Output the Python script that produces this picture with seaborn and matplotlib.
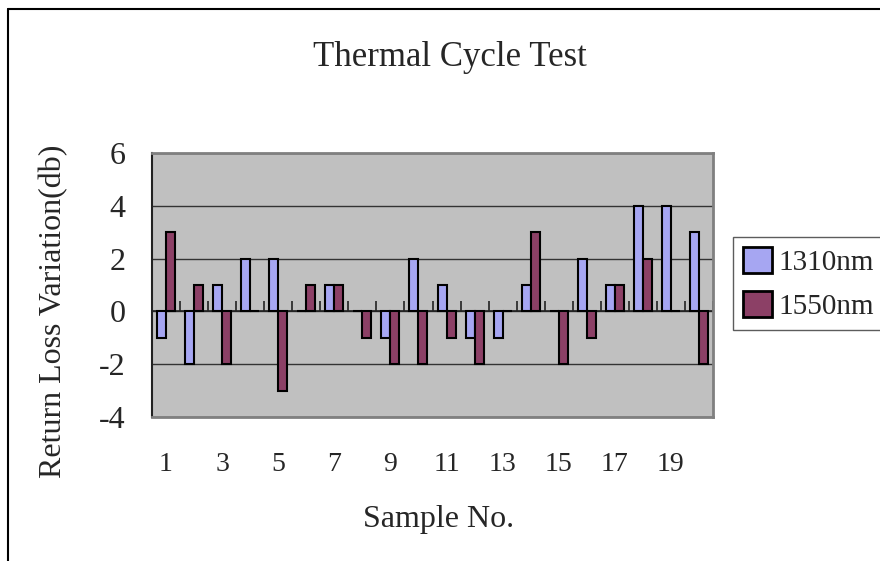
import pandas as pd
import numpy as np
import matplotlib
matplotlib.use("Agg")
import matplotlib.pyplot as plt
import seaborn as sns
from matplotlib.lines import Line2D

# values
samples = [str(i) for i in range(1, 21)]
loss_1310 = [-1, -2, 1, 2, 2, 0, 1, 0, -1, 2, 1, -1, -1, 1, 0, 2, 1, 4, 4, 3]
loss_1550 = [3, 1, -2, 0, -3, 1, 1, -1, -2, -2, -1, -2, 0, 3, -2, -1, 1, 2, 0, -2]
series = ["1310nm", "1550nm"]
yticks = [-4, -2, 0, 2, 4, 6]
xtick_labels = samples[::2]

df = pd.DataFrame({
    "Sample": samples * 2,
    "Variation": loss_1310 + loss_1550,
    "Wavelength": [series[0]] * len(samples) + [series[1]] * len(samples),
})

sns.set_style("white")
plt.rcParams["font.family"] = ["Liberation Serif", "DejaVu Serif"]

fig = plt.figure(figsize=(8.8, 5.61), dpi=100)
ax = fig.add_axes([152 / 880, 1 - 417 / 561, 561 / 880, 264 / 561])
ax.set_facecolor("#C0C0C0")

sns.barplot(data=df, x="Sample", y="Variation", hue="Wavelength",
            palette=["#9999FF", "#993366"], width=0.64, gap=0,
            edgecolor="black", linewidth=1.5, ax=ax, zorder=3)

ax.set_ylim(-4, 6)
ax.set_xlim(-0.5, len(samples) - 0.5)
ax.set_yticks(yticks)
ax.set_yticklabels([str(v) for v in yticks], fontsize=23)
ax.tick_params(axis="y", direction="in", length=10, width=1.5, color="#333333", pad=19)
ax.set_xticks(np.arange(0, len(samples), 2))
ax.set_xticklabels(xtick_labels, fontsize=20)
ax.tick_params(axis="x", length=0, pad=25)

ax.set_axisbelow(True)
ax.yaxis.grid(True, color="#333333", linewidth=1.0)

# category axis on the zero line, ticks between categories
ax.axhline(0, color="#222222", linewidth=1.2, zorder=2)
bounds = np.arange(len(samples) + 1) - 0.5
ax.vlines(bounds, 0, 0.38, color="#222222", linewidth=1.2, zorder=2)

for side in ["top", "right", "bottom"]:
    ax.spines[side].set_color("#808080")
    ax.spines[side].set_linewidth(2)
ax.spines["left"].set_color("#222222")
ax.spines["left"].set_linewidth(1.5)

ax.set_xlabel("Sample No.", fontsize=23)
ax.xaxis.set_label_coords(0.51, -0.335)
ax.set_ylabel("Return Loss Variation(db)", fontsize=23)
ax.yaxis.set_label_coords(-0.150, 0.40)

fig.text(450 / 880, 1 - 57 / 561, "Thermal Cycle Test", fontsize=25,
         ha="center", va="center")

leg = ax.legend(loc="upper left", bbox_to_anchor=(733 / 880, 1 - 237 / 561),
                bbox_transform=fig.transFigure, fontsize=21, frameon=True,
                fancybox=False, edgecolor="#333333", handlelength=1.0,
                handleheight=1.0, handletextpad=0.2, borderpad=0.35,
                labelspacing=0.5, borderaxespad=0)
leg.get_frame().set_linewidth(1.0)
for h in leg.legend_handles:
    h.set_linewidth(2)

# outer chart frame
fig.add_artist(Line2D([8 / 880, 8 / 880], [0, 1 - 9 / 561], color="black",
                      linewidth=1.5, transform=fig.transFigure))
fig.add_artist(Line2D([8 / 880, 1], [1 - 9 / 561, 1 - 9 / 561], color="black",
                      linewidth=1.5, transform=fig.transFigure))

fig.savefig("out.png", dpi=100)
